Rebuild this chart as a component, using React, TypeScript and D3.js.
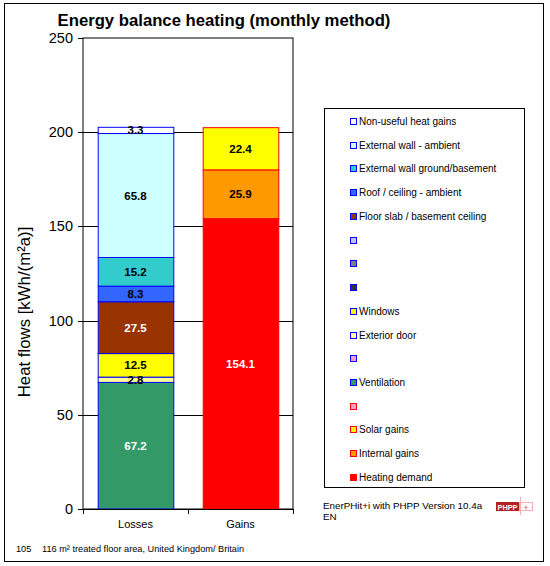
import React from "react";
import * as d3 from "d3";

const categories = ["Losses", "Gains"];

const lossNames = [
  "Ventilation",
  "Exterior door",
  "Windows",
  "Floor slab / basement ceiling",
  "Roof / ceiling - ambient",
  "External wall ground/basement",
  "External wall - ambient",
  "Non-useful heat gains",
];
const lossValues = [67.2, 2.8, 12.5, 27.5, 8.3, 15.2, 65.8, 3.3];
const lossColors = ["#339966", "#FFFF99", "#FFFF00", "#993300", "#3366FF", "#33CCCC", "#CCFFFF", "#FFFFFF"];
const lossLabelColors = ["#fff", "#000", "#000", "#fff", "#000", "#000", "#000", "#000"];

const gainNames = ["Heating demand", "Internal gains", "Solar gains"];
const gainValues = [154.1, 25.9, 22.4];
const gainColors = ["#FF0000", "#FF9900", "#FFFF00"];
const gainLabelColors = ["#fff", "#000", "#000"];

const yTicks = [0, 50, 100, 150, 200, 250];

const legendLabels = [
  "Non-useful heat gains",
  "External wall - ambient",
  "External wall ground/basement",
  "Roof / ceiling - ambient",
  "Floor slab / basement ceiling",
  "",
  "",
  "",
  "Windows",
  "Exterior door",
  "",
  "Ventilation",
  "",
  "Solar gains",
  "Internal gains",
  "Heating demand",
];
const legendFills = [
  "#FFFFFF", "#CCFFFF", "#33CCCC", "#3366FF", "#993300", "#C0C0E0", "#808080", "#333333",
  "#FFFF00", "#FFFF99", "#FF99CC", "#339966", "#FF99CC", "#FFFF00", "#FF9900", "#FF0000",
];
const legendStrokes = [
  "#0000FF", "#0000FF", "#0000FF", "#0000FF", "#0000FF", "#0000FF", "#0000FF", "#0000FF",
  "#0000FF", "#0000FF", "#0000FF", "#0000FF", "#FF0000", "#FF0000", "#FF0000", "#FF0000",
];

const FONT = "'Liberation Sans', Arial, sans-serif";

export default function App() {
  const W = 550, H = 566;
  const plot = { left: 83, right: 293, top: 38, bottom: 509 };
  const y = d3.scaleLinear().domain([0, 250]).range([plot.bottom, plot.top]);
  const x = d3.scaleBand().domain(categories).range([plot.left, plot.right]).paddingInner(0.28).paddingOuter(0.14);

  const stackSeg = (values: number[]) => {
    let acc = 0;
    return values.map((v) => {
      const s = { y0: acc, y1: acc + v, v };
      acc += v;
      return s;
    });
  };
  const lossSegs = stackSeg(lossValues);
  const gainSegs = stackSeg(gainValues);

  const legendX = 350, legendY0 = 121, legendStep = 23.73;

  return (
    <svg width={W} height={H} style={{ position: "absolute", left: 0, top: 0 }} fontFamily={FONT}>
      <rect x={0} y={0} width={W} height={H} fill="#fff" />
      <rect x={4.5} y={3.5} width={539} height={558} fill="none" stroke="#000" strokeWidth={1} />

      <text x={224} y={26} textAnchor="middle" fontSize={16.7} fontWeight="bold">
        Energy balance heating (monthly method)
      </text>

      {/* plot area */}
      <rect x={plot.left} y={plot.top} width={plot.right - plot.left} height={plot.bottom - plot.top} fill="#fff" stroke="#000" />
      {yTicks.map((t) => (
        <g key={t}>
          {t > 0 && t < 250 && (
            <line x1={plot.left} x2={plot.right} y1={Math.round(y(t)) + 0.5} y2={Math.round(y(t)) + 0.5} stroke="#000" />
          )}
          <line x1={plot.left - 5} x2={plot.left} y1={Math.round(y(t)) + 0.5} y2={Math.round(y(t)) + 0.5} stroke="#000" />
          <text x={73} y={y(t) + 5} textAnchor="end" fontSize={14.5}>
            {t}
          </text>
        </g>
      ))}

      {/* bars */}
      {lossSegs.map((s, i) => (
        <rect key={"l" + i} x={x("Losses")! + 0.5} width={x.bandwidth()} y={y(s.y1)} height={y(s.y0) - y(s.y1)}
          fill={lossColors[i]} stroke="#0000FF" strokeWidth={1} />
      ))}
      {gainSegs.map((s, i) => (
        <rect key={"g" + i} x={x("Gains")! + 0.5} width={x.bandwidth()} y={y(s.y1)} height={y(s.y0) - y(s.y1)}
          fill={gainColors[i]} stroke="#FF0000" strokeWidth={1} />
      ))}
      {lossSegs.map((s, i) => (
        <text key={"lt" + i} x={x("Losses")! + x.bandwidth() / 2} y={(y(s.y0) + y(s.y1)) / 2 + 4}
          textAnchor="middle" fontSize={11.5} fontWeight="bold" fill={lossLabelColors[i]}>
          {s.v.toFixed(1)}
        </text>
      ))}
      {gainSegs.map((s, i) => (
        <text key={"gt" + i} x={x("Gains")! + x.bandwidth() / 2} y={(y(s.y0) + y(s.y1)) / 2 + 4}
          textAnchor="middle" fontSize={11.5} fontWeight="bold" fill={gainLabelColors[i]}>
          {s.v.toFixed(1)}
        </text>
      ))}

      {/* x axis */}
      <line x1={plot.left} x2={plot.right} y1={plot.bottom + 0.5} y2={plot.bottom + 0.5} stroke="#000" />
      {[plot.left, (plot.left + plot.right) / 2, plot.right].map((tx, i) => (
        <line key={i} x1={Math.round(tx) + 0.5} x2={Math.round(tx) + 0.5} y1={plot.bottom} y2={plot.bottom + 5} stroke="#000" />
      ))}
      {categories.map((c) => (
        <text key={c} x={x(c)! + x.bandwidth() / 2} y={528} textAnchor="middle" fontSize={11}>
          {c}
        </text>
      ))}

      <text transform={`translate(30,312) rotate(-90)`} textAnchor="middle" fontSize={16.8}>
        Heat flows [kWh/(m²a)]
      </text>

      {/* legend */}
      <rect x={324.5} y={108.5} width={200} height={379} fill="#fff" stroke="#000" />
      {legendLabels.map((l, i) => {
        const ly = legendY0 + i * legendStep;
        return (
          <g key={i}>
            <rect x={legendX + 0.5} y={Math.round(ly) - 2.5} width={6} height={6} fill={legendFills[i]} stroke={legendStrokes[i]} />
            <text x={359} y={ly + 4} fontSize={10}>
              {l}
            </text>
          </g>
        );
      })}

      <text x={323} y={509} fontSize={9.8}>EnerPHit+i with PHPP Version 10.4a</text>
      <text x={323} y={520} fontSize={9.8}>EN</text>

      {/* PHPP logo */}
      <rect x={496} y={502} width={23} height={9} fill="#B22222" />
      <text x={507.5} y={509.5} textAnchor="middle" fontSize={7} fontWeight="bold" fill="#fff" textLength={20} lengthAdjust="spacingAndGlyphs">PHPP</text>
      <rect x={519.5} y={502.5} width={13} height={8} fill="#fff" stroke="#F0B0B0" />
      <line x1={520.5} x2={520.5} y1={497} y2={515} stroke="#F0B0B0" />
      <text x={526} y={509.5} textAnchor="middle" fontSize={7} fill="#E08080">✈</text>

      <text x={16} y={552} fontSize={9.2}>105</text>
      <text x={42} y={552} fontSize={9.2}>116 m² treated floor area, United Kingdom/ Britain</text>
    </svg>
  );
}
